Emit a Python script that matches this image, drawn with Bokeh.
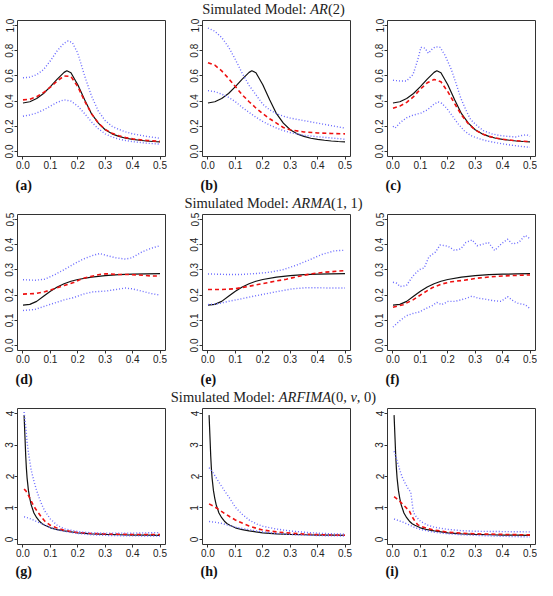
from bokeh.plotting import figure
from bokeh.layouts import column, row
from bokeh.models import Range1d, FixedTicker, Label
from bokeh.embed import file_html
from bokeh.resources import INLINE

# ---------------- data ----------------
x_ticks = [0.0, 0.1, 0.2, 0.3, 0.4, 0.5]
x_tick_labels = ["0.0", "0.1", "0.2", "0.3", "0.4", "0.5"]
ar_y_ticks = [0.0, 0.2, 0.4, 0.6, 0.8, 1.0]
ar_y_tick_labels = ["0.0", "0.2", "0.4", "0.6", "0.8", "1.0"]
arma_y_ticks = [0.0, 0.1, 0.2, 0.3, 0.4, 0.5]
arma_y_tick_labels = ["0.0", "0.1", "0.2", "0.3", "0.4", "0.5"]
arfima_y_ticks = [0, 1, 2, 3, 4]
arfima_y_tick_labels = ["0", "1", "2", "3", "4"]
panel_labels = ["(a)", "(b)", "(c)", "(d)", "(e)", "(f)", "(g)", "(h)", "(i)"]

# true spectral densities
ar_true_x = [0, .025, .05, .075, .1, .125, .15, .16, .175, .2, .225, .25, .275, .3, .325, .35, .375, .4, .425, .45, .475, .5]
ar_true = [.385, .395, .42, .46, .515, .575, .628, .641, .625, .53, .41, .30, .225, .172, .14, .12, .105, .096, .089, .083, .079, .076]
arma_true_x = [0, .025, .05, .075, .1, .125, .15, .175, .2, .25, .3, .35, .4, .45, .5]
arma_true = [.16, .163, .175, .195, .215, .232, .245, .255, .262, .271, .277, .281, .283, .284, .285]
arfima_true_x = [.004, .0075, .01, .0125, .015, .02, .025, .03, .04, .05, .06, .07, .08, .1, .125, .15, .2, .25, .3, .35, .4, .45, .5]
arfima_true = [3.95, 3.2, 2.65, 2.25, 1.95, 1.55, 1.3, 1.1, .84, .69, .58, .5, .45, .37, .31, .27, .21, .18, .16, .15, .14, .135, .13]

# (a)
a_mean_x = [0, .025, .05, .075, .1, .125, .15, .175, .2, .225, .25, .275, .3, .325, .35, .375, .4, .45, .5]
a_mean = [.41, .415, .435, .468, .51, .56, .60, .595, .515, .40, .30, .225, .175, .145, .124, .11, .10, .088, .08]
a_upper_x = [0, .025, .05, .075, .1, .125, .15, .165, .18, .2, .225, .25, .275, .3, .325, .35, .375, .4, .45, .5]
a_upper = [.585, .59, .61, .65, .72, .80, .86, .878, .865, .78, .60, .44, .32, .245, .20, .175, .155, .14, .12, .105]
a_lower_x = [0, .025, .05, .075, .1, .125, .15, .175, .2, .225, .25, .275, .3, .325, .35, .375, .4, .45, .5]
a_lower = [.28, .29, .305, .33, .36, .39, .41, .40, .36, .30, .235, .18, .14, .115, .098, .087, .078, .066, .058]
# (b)
b_mean_x = [0, .025, .05, .075, .1, .125, .15, .175, .2, .225, .25, .275, .3, .35, .4, .45, .5]
b_mean = [.705, .685, .64, .58, .515, .45, .395, .345, .30, .26, .225, .19, .172, .155, .147, .143, .14]
b_upper_x = [0, .025, .05, .075, .1, .125, .15, .175, .2, .225, .25, .275, .3, .35, .4, .45, .5]
b_upper = [.98, .955, .905, .83, .73, .62, .525, .45, .375, .33, .30, .28, .265, .245, .225, .205, .185]
b_lower_x = [0, .025, .05, .075, .1, .125, .15, .175, .2, .225, .25, .275, .3, .35, .4, .45, .5]
b_lower = [.483, .475, .455, .43, .395, .35, .31, .272, .238, .21, .186, .166, .15, .128, .117, .107, .097]
# (c)
c_mean_x = [0, .025, .05, .075, .1, .125, .15, .175, .2, .225, .25, .275, .3, .325, .35, .375, .4, .45, .5]
c_mean = [.343, .36, .39, .435, .495, .545, .572, .553, .475, .38, .29, .22, .17, .14, .12, .107, .097, .085, .078]
c_upper_x = [0, .026, .049, .073, .09, .102, .117, .129, .143, .155, .172, .19, .213, .231, .248, .266, .283, .307, .33, .36, .389, .418, .447, .47, .488, .5]
c_upper = [.565, .56, .56, .61, .725, .827, .82, .78, .814, .832, .827, .763, .65, .534, .42, .33, .254, .204, .165, .14, .127, .12, .115, .127, .132, .12]
c_lower_x = [0, .008, .026, .049, .073, .102, .125, .149, .164, .178, .196, .213, .237, .26, .283, .313, .342, .377, .412, .447, .477, .5]
c_lower = [.20, .186, .229, .267, .288, .305, .33, .374, .394, .382, .343, .293, .221, .165, .127, .102, .084, .069, .056, .046, .038, .033]
# (d)
d_mean_x = [0, .044, .079, .114, .15, .185, .22, .256, .28, .303, .338, .374, .421, .468, .5]
d_mean = [.204, .206, .213, .225, .238, .25, .267, .276, .282, .285, .282, .282, .28, .276, .276]
d_upper_x = [0, .044, .079, .114, .15, .185, .22, .256, .28, .303, .338, .374, .397, .433, .468, .5]
d_upper = [.261, .259, .263, .28, .301, .323, .343, .358, .365, .358, .348, .343, .348, .371, .386, .396]
d_lower_x = [0, .044, .079, .114, .15, .185, .22, .256, .303, .338, .374, .397, .433, .468, .5]
d_lower = [.139, .143, .156, .168, .181, .19, .204, .213, .216, .222, .228, .225, .216, .206, .20]
# (e)
e_mean_x = [0, .05, .098, .145, .192, .239, .286, .333, .38, .427, .474, .5]
e_mean = [.222, .222, .225, .234, .244, .254, .263, .275, .285, .291, .295, .297]
e_upper_x = [0, .062, .121, .18, .227, .274, .321, .368, .415, .462, .5]
e_upper = [.284, .282, .282, .286, .291, .301, .318, .339, .361, .376, .378]
e_lower_x = [0, .039, .074, .121, .168, .215, .262, .309, .356, .404, .451, .5]
e_lower = [.162, .166, .175, .185, .196, .206, .216, .225, .229, .229, .228, .228]
# (f)
f_mean_x = [0, .037, .073, .108, .143, .178, .213, .26, .307, .354, .40, .447, .5]
f_mean = [.152, .162, .181, .206, .229, .244, .253, .259, .267, .272, .276, .278, .28]
f_upper_x = [0, .014, .026, .049, .073, .096, .114, .131, .155, .172, .201, .225, .248, .266, .289, .307, .33, .348, .371, .395, .418, .436, .459, .482, .5]
f_upper = [.251, .247, .234, .238, .276, .301, .308, .352, .371, .399, .394, .377, .384, .409, .419, .396, .403, .409, .377, .403, .422, .403, .409, .437, .424]
f_lower_x = [0, .026, .049, .073, .096, .119, .143, .16, .178, .201, .225, .248, .266, .289, .313, .336, .365, .395, .418, .441, .459, .482, .5]
f_lower = [.073, .099, .118, .127, .133, .146, .158, .171, .162, .175, .175, .181, .187, .196, .187, .184, .178, .175, .194, .175, .166, .162, .146]
# (g)
g_mean_x = [.004, .01, .02, .03, .04, .05, .06, .07, .08, .1, .125, .15, .2, .25, .3, .4, .5]
g_mean = [1.6, 1.55, 1.4, 1.22, 1.05, .92, .8, .68, .58, .45, .36, .29, .22, .19, .175, .16, .155]
g_upper_x = [.004, .01, .015, .02, .03, .04, .05, .06, .07, .08, .1, .125, .15, .2, .25, .3, .4, .45, .5]
g_upper = [4.05, 3.6, 3.1, 2.75, 2.2, 1.85, 1.55, 1.3, 1.08, .9, .65, .45, .34, .25, .21, .2, .2, .21, .22]
g_lower_x = [.004, .02, .04, .06, .08, .1, .125, .15, .2, .25, .3, .35, .4, .45, .5]
g_lower = [.72, .68, .61, .53, .46, .38, .31, .26, .19, .15, .13, .12, .115, .11, .11]
# (h)
h_mean_x = [.004, .02, .04, .06, .08, .1, .125, .15, .175, .2, .25, .3, .35, .4, .45, .5]
h_mean = [1.13, 1.06, .95, .83, .72, .62, .52, .43, .36, .3, .24, .2, .17, .155, .14, .135]
h_upper_x = [.004, .02, .04, .06, .08, .1, .125, .15, .175, .2, .25, .3, .35, .4, .45, .5]
h_upper = [2.28, 2.1, 1.82, 1.55, 1.3, 1.02, .8, .62, .5, .42, .33, .27, .23, .2, .18, .17]
h_lower_x = [.004, .025, .05, .075, .1, .125, .15, .2, .25, .3, .35, .4, .45, .5]
h_lower = [.57, .55, .51, .45, .39, .35, .31, .24, .19, .16, .14, .125, .115, .11]
# (i)
i_mean_x = [.004, .02, .04, .06, .07, .08, .09, .1, .125, .15, .2, .25, .3, .4, .5]
i_mean = [1.36, 1.25, 1.08, .9, .72, .58, .47, .42, .35, .3, .23, .2, .18, .16, .145]
i_upper_x = [.004, .015, .025, .035, .045, .055, .065, .07, .075, .085, .1, .125, .15, .2, .25, .3, .4, .5]
i_upper = [2.8, 2.5, 2.2, 1.95, 1.78, 1.62, 1.5, 1.15, .85, .72, .58, .46, .39, .32, .28, .26, .25, .24]
i_lower_x = [.004, .02, .04, .06, .08, .1, .125, .15, .2, .25, .3, .35, .4, .45, .5]
i_lower = [.65, .6, .54, .46, .38, .32, .27, .23, .18, .15, .13, .115, .1, .09, .08]

# ---------------- layout constants ----------------
TOTAL_W = 537
FW = 148          # frame width
FIG_H = 157       # figure height (top 3 + frame + bottom 18)
LEFT = 17
RIGHTS = [20, 20, 2]
TS = 14.5         # title font size
BLUE = "#6b6bff"

REG = {'S': 556, 'i': 278, 'm': 778, 'u': 500, 'l': 278, 'a': 444, 't': 278, 'e': 444,
       'd': 500, ' ': 250, 'M': 889, 'o': 500, ':': 278, '(': 333, ')': 333, ',': 250,
       '0': 500, '1': 500, '2': 500}
ITA = {'A': 611, 'R': 611, 'M': 833, 'F': 611, 'I': 333, 'v': 444}


def tw(s, italic):
    tab = ITA if italic else REG
    return sum(tab[c] for c in s) / 1000.0 * TS


def strip(h):
    s = figure(width=TOTAL_W, height=h, x_range=Range1d(0, TOTAL_W), y_range=Range1d(0, h),
               output_backend="svg", toolbar_location=None,
               x_axis_location=None, y_axis_location=None,
               min_border=0, min_border_left=0, min_border_right=0,
               min_border_top=0, min_border_bottom=0)
    s.grid.visible = False
    s.outline_line_color = None
    s.background_fill_color = "white"
    s.border_fill_color = "white"
    return s


def add_title(s, pieces, y):
    cx = LEFT + 185 + FW / 2 - 3
    total = sum(tw(t, it) for t, it in pieces)
    x = cx - total / 2
    for t, it in pieces:
        if t.strip():
            s.add_layout(Label(x=x, y=y, text=t, text_font="Liberation Serif",
                               text_font_size=f"{TS}px",
                               text_font_style="italic" if it else "normal",
                               text_baseline="middle", text_align="left",
                               text_color="#222222"))
        x += tw(t, it)


def add_panel_labels(s, labels, y):
    for k, lab in enumerate(labels):
        s.add_layout(Label(x=LEFT - 2 + 185 * k, y=y, text=lab, text_font="Liberation Serif",
                           text_font_size="14px", text_font_style="bold",
                           text_baseline="middle", text_align="left", text_color="#111111"))


def panel(tx, ty, mx, my, ux, uy, lx, ly, yr, yticks, ylabels, right):
    p = figure(width=LEFT + FW + right, height=FIG_H,
               x_range=Range1d(-0.02, 0.52), y_range=Range1d(*yr),
               output_backend="svg", toolbar_location=None,
               min_border_left=LEFT, min_border_right=right,
               min_border_top=3, min_border_bottom=18)
    p.background_fill_color = "white"
    p.border_fill_color = "white"
    p.grid.visible = False
    p.outline_line_color = "#333333"
    p.outline_line_width = 1
    p.outline_line_alpha = 1.0
    for ax in (p.xaxis[0], p.yaxis[0]):
        ax.axis_line_color = None
        ax.major_tick_out = 3
        ax.major_tick_in = 0
        ax.minor_tick_out = 0
        ax.minor_tick_in = 0
        ax.major_tick_line_color = "#333333"
        ax.major_label_text_font = "Liberation Sans"
        ax.major_label_text_font_size = "10px"
        ax.major_label_text_color = "#222222"
        ax.major_label_standoff = 1
    p.xaxis.ticker = FixedTicker(ticks=x_ticks)
    p.xaxis.major_label_overrides = dict(zip(x_ticks, x_tick_labels))
    p.yaxis.ticker = FixedTicker(ticks=yticks)
    p.yaxis.major_label_overrides = dict(zip(yticks, ylabels))
    p.yaxis.major_label_orientation = "vertical"
    p.line(tx, ty, line_color="#111111", line_width=1.2)
    p.line(mx, my, line_color="#ee1111", line_width=1.6, line_dash="4 3")
    p.line(ux, uy, line_color=BLUE, line_width=1.4, line_dash="1 2")
    p.line(lx, ly, line_color=BLUE, line_width=1.4, line_dash="1 2")
    return p


AR_R = (-0.04, 1.04)
ARMA_R = (-0.02, 0.52)
ARF_R = (-0.16, 4.16)

row1 = row(
    panel(ar_true_x, ar_true, a_mean_x, a_mean, a_upper_x, a_upper, a_lower_x, a_lower, AR_R, ar_y_ticks, ar_y_tick_labels, RIGHTS[0]),
    panel(ar_true_x, ar_true, b_mean_x, b_mean, b_upper_x, b_upper, b_lower_x, b_lower, AR_R, ar_y_ticks, ar_y_tick_labels, RIGHTS[1]),
    panel(ar_true_x, ar_true, c_mean_x, c_mean, c_upper_x, c_upper, c_lower_x, c_lower, AR_R, ar_y_ticks, ar_y_tick_labels, RIGHTS[2]),
)
row2 = row(
    panel(arma_true_x, arma_true, d_mean_x, d_mean, d_upper_x, d_upper, d_lower_x, d_lower, ARMA_R, arma_y_ticks, arma_y_tick_labels, RIGHTS[0]),
    panel(arma_true_x, arma_true, e_mean_x, e_mean, e_upper_x, e_upper, e_lower_x, e_lower, ARMA_R, arma_y_ticks, arma_y_tick_labels, RIGHTS[1]),
    panel(arma_true_x, arma_true, f_mean_x, f_mean, f_upper_x, f_upper, f_lower_x, f_lower, ARMA_R, arma_y_ticks, arma_y_tick_labels, RIGHTS[2]),
)
row3 = row(
    panel(arfima_true_x, arfima_true, g_mean_x, g_mean, g_upper_x, g_upper, g_lower_x, g_lower, ARF_R, arfima_y_ticks, arfima_y_tick_labels, RIGHTS[0]),
    panel(arfima_true_x, arfima_true, h_mean_x, h_mean, h_upper_x, h_upper, h_lower_x, h_lower, ARF_R, arfima_y_ticks, arfima_y_tick_labels, RIGHTS[1]),
    panel(arfima_true_x, arfima_true, i_mean_x, i_mean, i_upper_x, i_upper, i_lower_x, i_lower, ARF_R, arfima_y_ticks, arfima_y_tick_labels, RIGHTS[2]),
)

t0 = strip(17)
add_title(t0, [("Simulated Model:", False), (" ", False), ("AR", True), ("(2)", False)], 8.5)

m1 = strip(37)
add_panel_labels(m1, panel_labels[0:3], 26)
add_title(m1, [("Simulated Model:", False), (" ", False), ("ARMA", True), ("(1, 1)", False)], 9)

m2 = strip(37)
add_panel_labels(m2, panel_labels[3:6], 26)
add_title(m2, [("Simulated Model:", False), (" ", False), ("ARFIMA", True), ("(0,", False), (" ", False),
               ("v", True), (",", False), (" ", False), ("0)", False)], 9)

b3 = strip(18)
add_panel_labels(b3, panel_labels[6:9], 9)

layout = column(t0, row1, m1, row2, m2, row3, b3)

open("out.html", "w").write(file_html(layout, INLINE))
